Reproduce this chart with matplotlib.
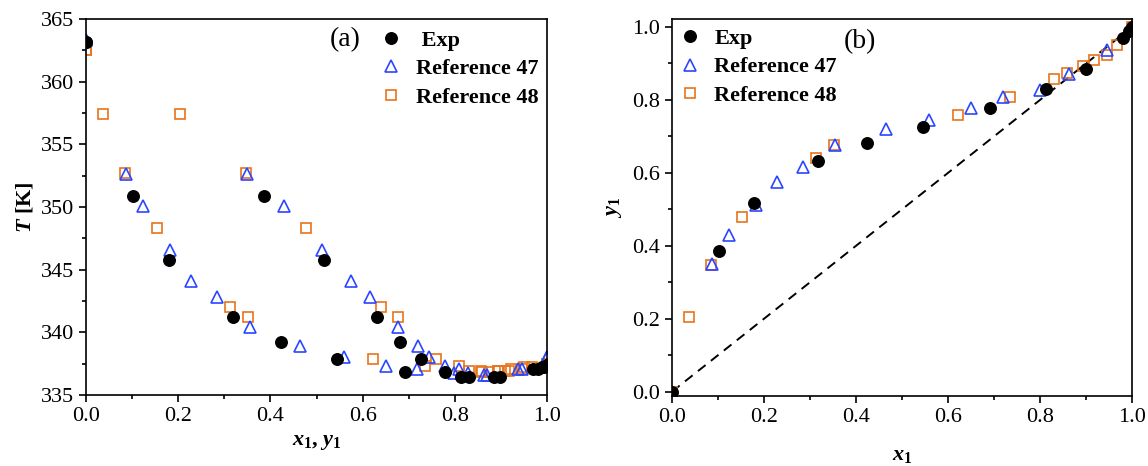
import numpy as np
import matplotlib
matplotlib.use("Agg")
import matplotlib.pyplot as plt
from matplotlib.ticker import MultipleLocator

plt.rcParams['font.family'] = ['Liberation Serif', 'DejaVu Serif']
plt.rcParams['mathtext.fontset'] = 'custom'
plt.rcParams['mathtext.rm'] = 'Liberation Serif'
plt.rcParams['mathtext.it'] = 'Liberation Serif:italic'
plt.rcParams['mathtext.bf'] = 'Liberation Serif:bold'
plt.rcParams['mathtext.bfit'] = 'Liberation Serif:italic:bold'

# T-x-y data: liquid x1, vapour y1, temperature T [K]
exp_x = [0.0, 0.102, 0.179, 0.318, 0.423, 0.545, 0.692, 0.814, 0.899, 0.980, 0.993, 1.0]
exp_y = [0.0, 0.386, 0.516, 0.632, 0.681, 0.727, 0.779, 0.831, 0.885, 0.970, 0.990, 1.0]
exp_T = [363.2, 350.85, 345.8, 341.2, 339.25, 337.85, 336.8, 336.4, 336.4, 337.05, 337.25, 337.4]

r47_x = [0.0, 0.086, 0.124, 0.182, 0.228, 0.285, 0.355, 0.465, 0.559, 0.650, 0.719, 0.799, 0.863, 0.946, 1.0]
r47_y = [0.0, 0.350, 0.429, 0.513, 0.574, 0.617, 0.676, 0.721, 0.744, 0.779, 0.808, 0.828, 0.870, 0.938, 1.0]
r47_T = [363.3, 352.6, 350.1, 346.6, 344.1, 342.8, 340.45, 338.9, 338.05, 337.3, 337.05, 336.75, 336.6, 337.1, 338.05]

r48_x = [0.0, 0.037, 0.085, 0.153, 0.312, 0.351, 0.622, 0.735, 0.830, 0.858, 0.893, 0.917, 0.945, 0.967, 1.0]
r48_y = [0.0, 0.205, 0.346, 0.478, 0.640, 0.676, 0.760, 0.809, 0.856, 0.874, 0.893, 0.909, 0.922, 0.950, 1.0]
r48_T = [362.5, 357.4, 352.7, 348.3, 342.05, 341.2, 337.9, 337.35, 336.9, 336.85, 336.9, 336.95, 337.05, 337.2, 337.5]

blue = '#2b46ff'
orange = '#e8741c'
fs = 16

exp_kw = dict(ls='none', marker='o', ms=8.3, mfc='black', mec='black', label=' Exp')
r47_kw = dict(ls='none', marker='^', ms=8.8, mfc='none', mec=blue, mew=1.2, label='Reference 47')
r48_kw = dict(ls='none', marker='s', ms=7.2, mfc='none', mec=orange, mew=1.2, label='Reference 48')

fig = plt.figure(figsize=(11.48, 4.66), dpi=100)
ax1 = fig.add_axes([0.0749, 0.1524, 0.4016, 0.8069])
ax2 = fig.add_axes([0.5854, 0.1502, 0.4007, 0.8091])


def style(ax):
    for s in ax.spines.values():
        s.set_linewidth(1.2)
    ax.tick_params(which='both', direction='out', top=False, right=False,
                   labelsize=fs, width=1.2)
    ax.tick_params(which='major', length=5)
    ax.tick_params(which='minor', length=3)


# (a) T-x-y
ax1.plot(r48_x, r48_T, **r48_kw)
ax1.plot(r48_y, r48_T, **{**r48_kw, 'label': None})
ax1.plot(r47_x, r47_T, **r47_kw)
ax1.plot(r47_y, r47_T, **{**r47_kw, 'label': None})
ax1.plot(exp_x, exp_T, **exp_kw)
ax1.plot(exp_y, exp_T, **{**exp_kw, 'label': None})
ax1.set_xlim(0, 1)
ax1.set_ylim(335, 365)
ax1.xaxis.set_major_locator(MultipleLocator(0.2))
ax1.xaxis.set_minor_locator(MultipleLocator(0.1))
ax1.yaxis.set_major_locator(MultipleLocator(5))
ax1.yaxis.set_minor_locator(MultipleLocator(2.5))
style(ax1)
ax1.set_xlabel(r'$\mathbfit{x}_\mathbf{1}\mathbf{,}\ \mathbfit{y}_\mathbf{1}$', fontsize=fs, labelpad=5)
ax1.set_ylabel(r'$\mathbfit{T}$ [K]', fontsize=fs, fontweight='bold', labelpad=4)
ax1.text(0.562, 0.944, '(a)', transform=ax1.transAxes, fontsize=20, ha='center', va='center')
h, l = ax1.get_legend_handles_labels()
order = [2, 1, 0]
ax1.legend([h[i] for i in order], [l[i] for i in order], loc='upper left',
           bbox_to_anchor=(0.6, 1.011), frameon=False,
           prop={'weight': 'bold', 'size': fs}, handletextpad=0.5,
           labelspacing=0.35, borderpad=0.2, handlelength=1.2)

# (b) x-y
ax2.plot([0, 1], [0, 1], ls=(0, (5, 3.5)), color='black', lw=1.4)
ax2.plot(r48_x, r48_y, **r48_kw)
ax2.plot(r47_x, r47_y, **r47_kw)
ax2.plot(exp_x, exp_y, **exp_kw)
ax2.set_xlim(0, 1)
ax2.set_ylim(-0.012, 1.022)
ax2.xaxis.set_major_locator(MultipleLocator(0.2))
ax2.xaxis.set_minor_locator(MultipleLocator(0.1))
ax2.yaxis.set_major_locator(MultipleLocator(0.2))
ax2.yaxis.set_minor_locator(MultipleLocator(0.1))
style(ax2)
ax2.set_xlabel(r'$\mathbfit{x}_\mathbf{1}$', fontsize=fs, labelpad=14)
ax2.set_ylabel(r'$\mathbfit{y}_\mathbf{1}$', fontsize=fs, labelpad=6)
ax2.text(0.409, 0.939, '(b)', transform=ax2.transAxes, fontsize=20, ha='center', va='center')
h, l = ax2.get_legend_handles_labels()
ax2.legend([h[2], h[1], h[0]], ['Exp', l[1], l[0]], loc='upper left',
           bbox_to_anchor=(-0.024, 1.016), frameon=False,
           prop={'weight': 'bold', 'size': fs}, handletextpad=0.5,
           labelspacing=0.35, borderpad=0.2, handlelength=1.2)

fig.savefig('out.png', dpi=100)
